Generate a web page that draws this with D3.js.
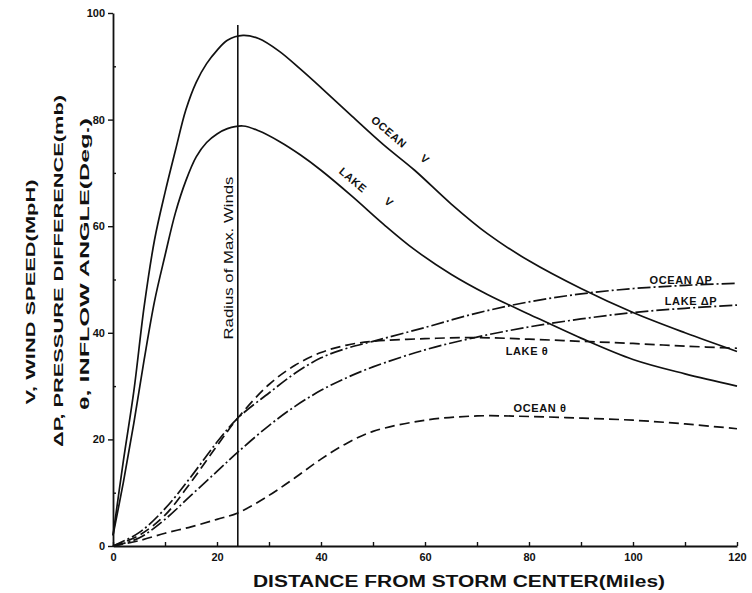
<!DOCTYPE html>
<html>
<head>
<meta charset="utf-8">
<script src="https://cdn.jsdelivr.net/npm/d3@7"></script>
<style>
  body { margin: 0; background: #fff; }
  svg { display: block; }
  text { font-family: "Liberation Sans", Arial, sans-serif; fill: #111; }
</style>
</head>
<body>
<svg id="grafico" width="752" height="593"></svg>
<script>
// distancias (millas) para las curvas de viento
const millasV = [0, 2, 4, 6, 8, 10, 12, 14, 16, 18, 20, 22, 25, 28, 32, 36, 40, 46, 52, 58, 65, 72, 80, 90, 100, 110, 120];
const oceanoV = [2, 16, 29, 45, 57.5, 66.3, 74.2, 81.8, 87, 90.5, 93, 94.9, 95.8, 95.2, 92.8, 89.5, 86, 80.6, 75.3, 70.5, 64.2, 58.6, 53.5, 48.3, 43.8, 40, 36.5];
const lagoV   = [2, 12, 23, 35, 46, 54.5, 62.5, 68.5, 73, 75.7, 77.3, 78.3, 78.8, 77.9, 75.9, 73.4, 70.5, 65.6, 60.4, 55.6, 51, 47.2, 43.5, 39, 35, 32.3, 30];

// distancias para presion y angulo
const millas   = [0, 5, 10, 15, 20, 24, 30, 35, 40, 45, 50, 60, 70, 80, 90, 100, 110, 120];
const oceanoDP = [0, 2.5, 7, 13, 19.5, 24, 28.7, 32.4, 35.3, 37.1, 38.4, 41, 43.7, 45.8, 47.3, 48.3, 48.9, 49.3];
const lagoDP   = [0, 1.5, 5, 9.5, 14, 17.6, 22.6, 26.2, 29.2, 31.6, 33.6, 36.8, 39.2, 41.1, 42.6, 43.8, 44.6, 45.2];
const lagoTh   = [0, 2, 5.8, 12, 18.8, 24, 30.3, 33.9, 36.3, 37.7, 38.4, 38.9, 39.1, 38.8, 38.4, 38, 37.5, 37.1];
const oceanoTh = [0, 1, 2.4, 3.6, 5, 6.2, 9.5, 12.8, 16.3, 19.3, 21.5, 23.6, 24.4, 24.3, 24, 23.6, 22.9, 22];

const ticksX = [0, 20, 40, 60, 80, 100, 120];
const menoresX = [10, 30, 50, 70, 90, 110];
const ticksY = [0, 20, 40, 60, 80, 100];
const menoresY = [10, 30, 50, 70, 90];
const radioMax = 24;

const svg = d3.select('#grafico');

const x = d3.scaleLinear().domain([0, 120]).range([113, 737]);
const y = d3.scaleLinear().domain([0, 100]).range([546, 13]);

// ejes
svg.append('g')
    .attr('transform', `translate(${x(0)},0)`)
    .call(d3.axisLeft(y).tickValues(ticksY).tickSize(5).tickSizeOuter(0).tickPadding(3));
const ejeYmenor = svg.append('g')
    .attr('transform', `translate(${x(0)},0)`)
    .call(d3.axisRight(y).tickValues(menoresY).tickSize(3).tickFormat(''));
ejeYmenor.select('.domain').remove();

svg.append('g')
    .attr('transform', `translate(0,${y(0)})`)
    .call(d3.axisBottom(x).tickValues(ticksX).tickSize(-4).tickSizeOuter(0).tickPadding(7));
const ejeXmenor = svg.append('g')
    .attr('transform', `translate(0,${y(0)})`)
    .call(d3.axisBottom(x).tickValues(menoresX).tickSize(-4).tickFormat(''));
ejeXmenor.select('.domain').remove();

svg.selectAll('.domain').attr('stroke', '#111').attr('stroke-width', 1.8);
svg.selectAll('.tick line').attr('stroke', '#111').attr('stroke-width', 1.4);
svg.selectAll('.tick text')
    .attr('font-family', '"Liberation Sans", Arial, sans-serif')
    .attr('font-size', 11)
    .attr('font-weight', 'bold')
    .attr('fill', '#111');

// radio de vientos maximos
svg.append('line')
    .attr('x1', x(radioMax)).attr('x2', x(radioMax))
    .attr('y1', 25).attr('y2', y(0))
    .attr('stroke', '#111').attr('stroke-width', 1.6);

svg.append('text')
    .attr('transform', `translate(${x(radioMax) - 5},258) rotate(-90)`)
    .attr('text-anchor', 'middle')
    .attr('font-size', 12)
    .attr('textLength', 163)
    .attr('lengthAdjust', 'spacingAndGlyphs')
    .text('Radius of Max. Winds');

// curvas
const linea = d3.line()
    .x(d => x(d[0]))
    .y(d => y(d[1]))
    .curve(d3.curveCatmullRom.alpha(0.5));

const series = [
    { m: millasV, v: oceanoV, dash: null },
    { m: millasV, v: lagoV, dash: null },
    { m: millas, v: oceanoDP, dash: '13,3,2,3' },
    { m: millas, v: lagoDP, dash: '13,3,2,3' },
    { m: millas, v: lagoTh, dash: '10,5' },
    { m: millas, v: oceanoTh, dash: '10,5' }
];

svg.append('g')
    .selectAll('path')
    .data(series)
    .join('path')
    .attr('d', s => linea(s.m.map((d, i) => [d, s.v[i]])))
    .attr('fill', 'none')
    .attr('stroke', '#111')
    .attr('stroke-width', 1.7)
    .attr('stroke-dasharray', s => s.dash);

// etiquetas de curvas
const etiquetas = [
    { t: 'OCEAN', x: 389, y: 132, r: 40 },
    { t: 'V', x: 425, y: 159, r: 40 },
    { t: 'LAKE', x: 353, y: 180, r: 40 },
    { t: 'V', x: 389, y: 202, r: 40 },
    { t: 'OCEAN ΔP', x: 681, y: 280, r: 0 },
    { t: 'LAKE ΔP', x: 691, y: 301, r: 0 },
    { t: 'LAKE θ', x: 527, y: 351, r: 0 },
    { t: 'OCEAN θ', x: 540, y: 408, r: 0 }
];

svg.append('g')
    .selectAll('text')
    .data(etiquetas)
    .join('text')
    .attr('transform', d => `translate(${d.x},${d.y}) rotate(${d.r})`)
    .attr('text-anchor', 'middle')
    .attr('dy', '0.35em')
    .attr('font-size', 11)
    .attr('font-weight', 'bold')
    .attr('letter-spacing', 0.6)
    .text(d => d.t);

// titulos
svg.append('text')
    .attr('x', 459).attr('y', 587)
    .attr('text-anchor', 'middle')
    .attr('font-size', 16)
    .attr('font-weight', 'bold')
    .attr('textLength', 412)
    .attr('lengthAdjust', 'spacingAndGlyphs')
    .text('DISTANCE FROM STORM CENTER(Miles)');

const titulosY = [
    { t: 'V,  WIND SPEED(MpH)', x: 35, y: 292, l: 225 },
    { t: 'ΔP,  PRESSURE DIFFERENCE(mb)', x: 63, y: 271, l: 352 },
    { t: 'θ,  INFLOW ANGLE(Deg.)', x: 89, y: 264, l: 292 }
];

svg.append('g')
    .selectAll('text')
    .data(titulosY)
    .join('text')
    .attr('transform', d => `translate(${d.x},${d.y}) rotate(-90)`)
    .attr('text-anchor', 'middle')
    .attr('font-size', 13)
    .attr('font-weight', 'bold')
    .attr('textLength', d => d.l)
    .attr('lengthAdjust', 'spacingAndGlyphs')
    .text(d => d.t);
</script>
</body>
</html>
